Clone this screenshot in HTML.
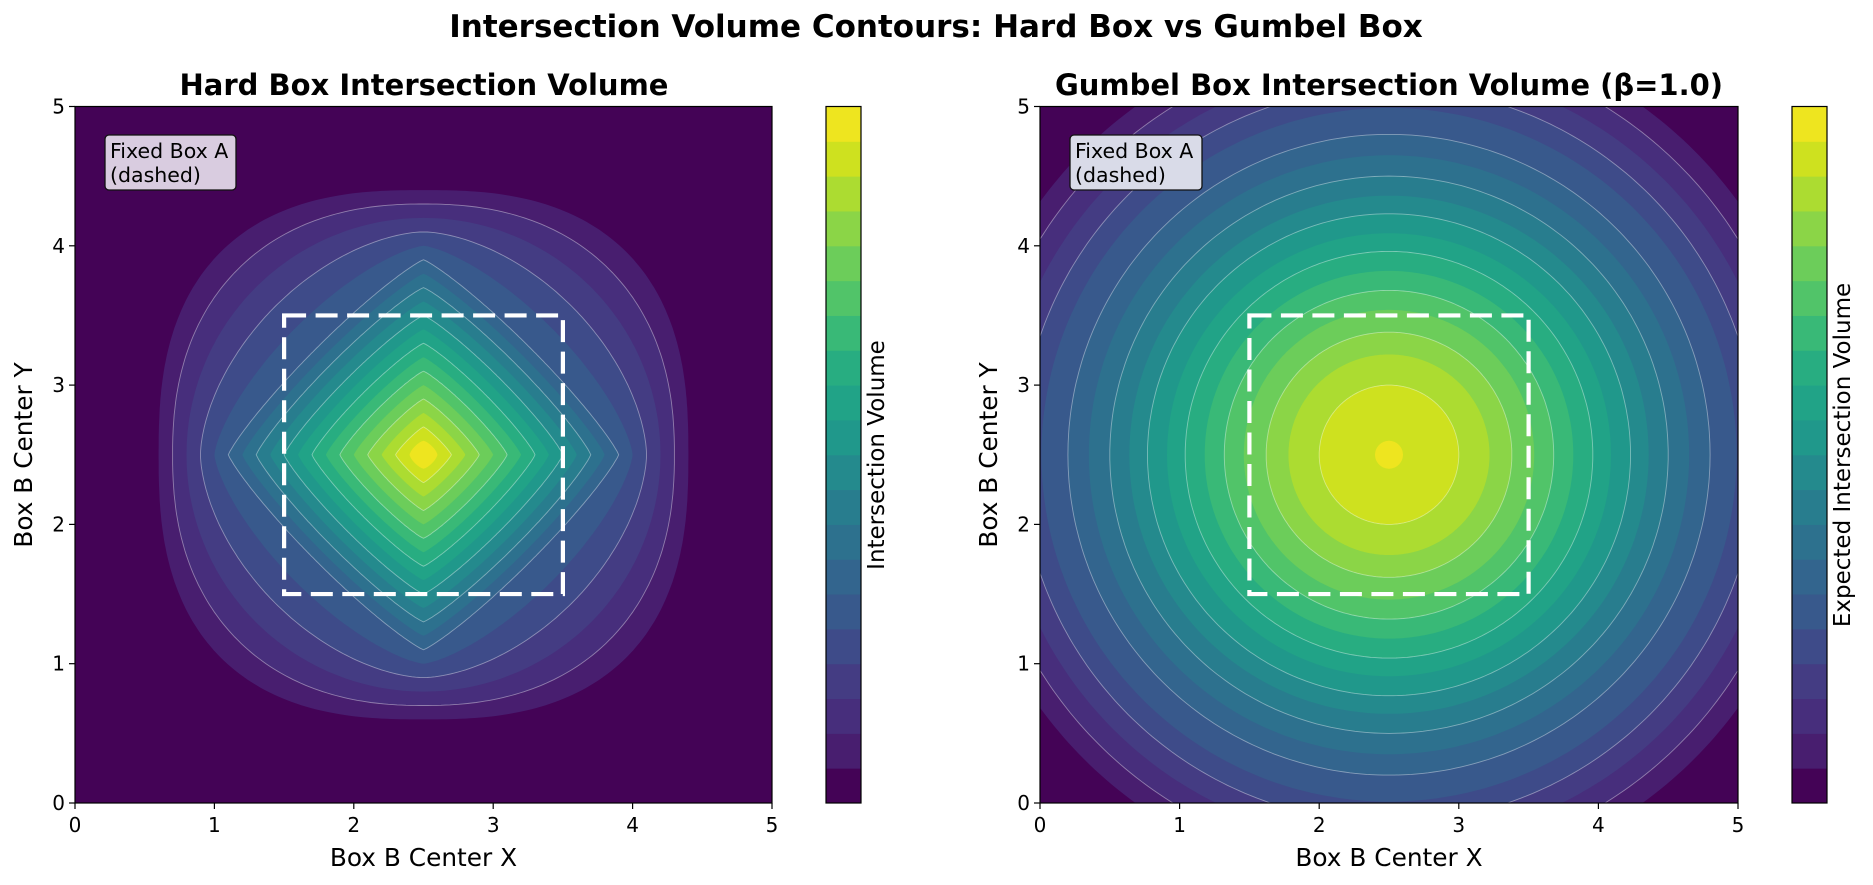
<!DOCTYPE html>
<html><head><meta charset="utf-8">
<style>
html,body{margin:0;padding:0;background:#fff;}
svg{display:block;font-family:"DejaVu Sans","Liberation Sans",sans-serif;}
</style></head>
<body>
<svg id="s" width="1873" height="885" viewBox="0 0 1873 885" xmlns="http://www.w3.org/2000/svg">
<defs>
<clipPath id="c1"><rect x="75" y="106.5" width="697" height="696.5"/></clipPath>
<clipPath id="c2"><rect x="1040" y="106.5" width="698" height="696.5"/></clipPath>
</defs>
<rect width="1873" height="885" fill="#fff"/>
<text x="936" y="37" text-anchor="middle" font-size="31" font-weight="bold">Intersection Volume Contours: Hard Box vs Gumbel Box</text>
<text x="424" y="95" text-anchor="middle" font-size="29" font-weight="bold">Hard Box Intersection Volume</text>
<text x="1389" y="95" text-anchor="middle" font-size="29" font-weight="bold">Gumbel Box Intersection Volume (β=1.0)</text>
<g id="p1" clip-path="url(#c1)"></g>
<g id="p2" clip-path="url(#c2)"></g>
<g id="cb"></g>
<g id="ax"></g>
</svg>
<script>
var VT=["#440154","#471365","#482878","#46337f","#414487","#3b528b","#355f8d","#306a8e","#2a788e","#26828e","#21918c","#1f9e89","#22a884","#2db27d","#44bf70","#5ec962","#7ad151","#9bd93c","#bddf26","#dfe318","#fde725"];
function hx(h){return [parseInt(h.substr(1,2),16),parseInt(h.substr(3,2),16),parseInt(h.substr(5,2),16)];}
function vir(t){var f=t*20,i=Math.min(19,Math.floor(f)),u=f-i,a=hx(VT[i]),b=hx(VT[i+1]);
  return 'rgb('+[0,1,2].map(function(k){return Math.round(a[k]+(b[k]-a[k])*u)}).join(',')+')';}
var C=[];for(var i=0;i<20;i++)C.push(vir(i==0?0.005:(i+0.5)/20));
var NS="http://www.w3.org/2000/svg";
function el(p,t,a){var e=document.createElementNS(NS,t);for(var k in a)e.setAttribute(k,a[k]);p.appendChild(e);return e;}
var svg=document.getElementById('s');
function panel(gid,x0,sx,shape){
  var g=document.getElementById(gid);
  var X=function(x){return x0+x*sx},Y=function(y){return 803-y*139.3};
  el(g,'rect',{x:X(0),y:106.5,width:sx*5,height:696.5,fill:C[0]});
  var lines=[];
  for(var k=1;k<20;k++){
    var pts=shape(k),d='';
    for(var j=0;j<pts.length;j++){d+=(j?'L':'M')+X(pts[j][0]).toFixed(1)+' '+Y(pts[j][1]).toFixed(1);}
    d+='Z';
    el(g,'path',{d:d,fill:C[k]});
    if(k%2==0)lines.push(d);
  }
  lines.forEach(function(d){el(g,'path',{d:d,fill:'none',stroke:'#fff','stroke-opacity':0.4,'stroke-width':0.9});});
  el(g,'rect',{x:X(1.5),y:Y(3.5),width:sx*2,height:139.3*2,fill:'none',stroke:'#fff','stroke-width':4.2,'stroke-dasharray':'22 9.5'});
  el(svg,'rect',{x:X(0),y:106.5,width:sx*5,height:696.5,fill:'none',stroke:'#000','stroke-width':1.2});
  for(var t=0;t<=5;t++){
    el(svg,'line',{x1:X(t),x2:X(t),y1:803,y2:809,stroke:'#000','stroke-width':1.2});
    el(svg,'text',{x:X(t),y:832,'text-anchor':'middle','font-size':20}).textContent=t;
    el(svg,'line',{x1:X(0)-6,x2:X(0),y1:Y(t),y2:Y(t),stroke:'#000','stroke-width':1.2});
    el(svg,'text',{x:X(0)-10,y:Y(t)+7,'text-anchor':'end','font-size':20}).textContent=t;
  }
  el(svg,'text',{x:X(2.5),y:866,'text-anchor':'middle','font-size':24.8}).textContent='Box B Center X';
  el(svg,'text',{'text-anchor':'middle','font-size':24.8,transform:'translate('+(X(0)-43)+' 455) rotate(-90)'}).textContent='Box B Center Y';
}
function superE(a,p){var pts=[];for(var i=0;i<360;i++){var th=i/360*2*Math.PI,c=Math.cos(th),s=Math.sin(th);
  var r=a/Math.pow(Math.pow(Math.abs(c),p)+Math.pow(Math.abs(s),p),1/p);pts.push([2.5+r*c,2.5+r*s]);}return pts;}
panel('p1',75,139.4,function(k){var a=2.0-0.1*k;var p=Math.max(1.15,2.9-0.3*k);if(k==19)p=1.4;return superE(a,p);});
var R=[0,3.09,2.94,2.79,2.64,2.49,2.3,2.15,2.0,1.86,1.73,1.59,1.46,1.32,1.18,1.04,0.88,0.72,0.5,0.1];
panel('p2',1040,139.6,function(k){return superE(R[k],2);});
function cbar(x,label){
  var g=document.getElementById('cb');var h=696.5/20;
  for(var i=0;i<20;i++)el(g,'rect',{x:x,y:803-(i+1)*h,width:35,height:h+0.5,fill:C[i]});
  el(g,'rect',{x:x,y:106.5,width:35,height:696.5,fill:'none',stroke:'#000','stroke-width':1.2});
  el(g,'text',{'text-anchor':'middle','font-size':23,transform:'translate('+(x+58)+' 455) rotate(-90)'}).textContent=label;
}
cbar(826,'Intersection Volume');cbar(1792,'Expected Intersection Volume');
function tb(x,w,bg){
  el(svg,'rect',{x:x,y:135,width:w,height:55,rx:4,fill:bg,stroke:'#111','stroke-width':1.3});
  el(svg,'text',{x:x+5,y:158,'font-size':20.5}).textContent='Fixed Box A';
  el(svg,'text',{x:x+5,y:182,'font-size':20.5}).textContent='(dashed)';
}
tb(105,131,'#d9cce0');tb(1070,132,'#d9dbe8');
</script>
</body></html>
